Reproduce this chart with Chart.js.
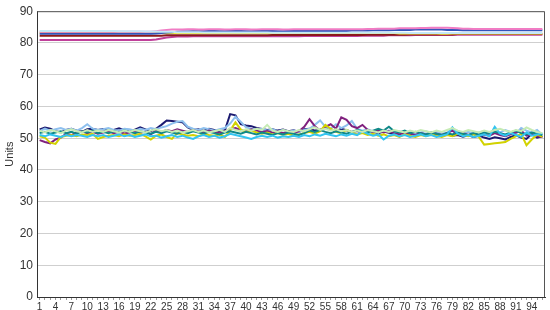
<!DOCTYPE html>
<html>
<head>
<meta charset="utf-8">
<script src="https://cdn.jsdelivr.net/npm/chart.js@4.4.1/dist/chart.umd.min.js"></script>
<style>
  html, body { margin: 0; padding: 0; background: #fff; }
  #wrap { width: 550px; height: 310px; }
</style>
</head>
<body>
<div id="wrap"><canvas id="unitsChart"></canvas></div>
<script>
// categories 1..96
var days = [];
for (var d = 1; d <= 96; d++) days.push(String(d));

var yTicks = [0, 10, 20, 30, 40, 50, 60, 70, 80, 90];

// upper group (flat lines around 83)
var pinkTop = [
  83.5, 83.5, 83.5, 83.5, 83.5, 83.5, 83.5, 83.5, 83.5, 83.5, 83.5, 83.5,
  83.5, 83.5, 83.5, 83.5, 83.5, 83.5, 83.5, 83.5, 83.5, 83.5, 83.7, 83.9,
  84.1, 84.2, 84.2, 84.2, 84.3, 84.3, 84.2, 84.2, 84.3, 84.3, 84.3, 84.2,
  84.2, 84.3, 84.3, 84.3, 84.2, 84.2, 84.3, 84.3, 84.3, 84.3, 84.2, 84.2,
  84.3, 84.3, 84.3, 84.3, 84.3, 84.3, 84.3, 84.3, 84.3, 84.3, 84.3, 84.3,
  84.3, 84.3, 84.4, 84.4, 84.5, 84.5, 84.5, 84.5, 84.6, 84.6, 84.6, 84.6,
  84.7, 84.7, 84.8, 84.8, 84.8, 84.8, 84.7, 84.6, 84.5, 84.5, 84.4, 84.4,
  84.4, 84.4, 84.4, 84.4, 84.4, 84.4, 84.4, 84.4, 84.4, 84.4, 84.4, 84.4
];
var blueTop = [
  82.9, 82.9, 82.9, 82.9, 82.9, 82.9, 82.9, 82.9, 82.9, 82.9, 82.9, 82.9,
  82.9, 82.9, 82.9, 82.9, 82.9, 82.9, 82.9, 82.9, 82.9, 82.9, 83.0, 83.1,
  83.3, 83.4, 83.5, 83.6, 83.6, 83.7, 83.7, 83.7, 83.8, 83.8, 83.7, 83.7,
  83.8, 83.8, 83.8, 83.7, 83.7, 83.8, 83.8, 83.8, 83.8, 83.7, 83.7, 83.8,
  83.8, 83.8, 83.8, 83.8, 83.8, 83.8, 83.8, 83.8, 83.8, 83.8, 83.8, 83.9,
  83.9, 83.9, 83.9, 84.0, 84.0, 84.0, 84.0, 84.1, 84.1, 84.1, 84.1, 84.2,
  84.2, 84.2, 84.2, 84.2, 84.2, 84.1, 84.1, 84.1, 84.0, 84.0, 84.0, 84.0,
  84.0, 84.0, 84.0, 84.0, 84.0, 84.0, 84.0, 84.0, 84.0, 84.0, 84.0, 84.0
];
var cyanTop = [
  83.8, 83.8, 83.8, 83.8, 83.8, 83.8, 83.8, 83.8, 83.8, 83.8, 83.8, 83.8,
  83.8, 83.8, 83.8, 83.7, 83.7, 83.7, 83.7, 83.7, 83.6, 83.6, 83.6, 83.5,
  83.5, 83.5, 83.4, 83.4, 83.4, 83.4, 83.4, 83.3, 83.3, 83.3, 83.3, 83.3,
  83.3, 83.3, 83.3, 83.3, 83.3, 83.3, 83.3, 83.3, 83.2, 83.2, 83.2, 83.2,
  83.2, 83.2, 83.2, 83.2, 83.2, 83.2, 83.2, 83.2, 83.2, 83.2, 83.2, 83.2,
  83.2, 83.2, 83.2, 83.2, 83.2, 83.2, 83.2, 83.2, 83.2, 83.2, 83.1, 83.1,
  83.1, 83.1, 83.1, 83.1, 83.1, 83.1, 83.1, 83.1, 83.1, 83.1, 83.1, 83.1,
  83.1, 83.1, 83.1, 83.1, 83.1, 83.1, 83.1, 83.1, 83.1, 83.1, 83.1, 83.1
];
var yellowTop = [
  83.1, 83.1, 83.1, 83.1, 83.1, 83.1, 83.1, 83.1, 83.1, 83.1, 83.1, 83.1,
  83.1, 83.1, 83.1, 83.1, 83.1, 83.1, 83.1, 83.1, 83.1, 83.1, 83.1, 83.1,
  83.1, 83.1, 83.1, 83.1, 83.1, 83.1, 83.1, 83.1, 83.1, 83.1, 83.1, 83.1,
  83.1, 83.1, 83.1, 83.1, 83.1, 83.1, 83.1, 83.1, 83.1, 83.1, 83.1, 83.1,
  83.1, 83.1, 83.1, 83.1, 83.1, 83.1, 83.1, 83.1, 83.1, 83.1, 83.1, 83.1,
  83.1, 83.1, 83.1, 83.1, 83.1, 83.1, 83.1, 83.1, 83.0, 83.0, 83.0, 83.0,
  83.0, 83.0, 83.0, 83.0, 82.9, 82.9, 83.0, 83.0, 83.0, 83.0, 83.0, 83.0,
  83.0, 83.0, 83.0, 83.0, 83.0, 83.0, 83.0, 83.0, 83.0, 83.0, 83.0, 83.0
];
var redTop = [
  82.3, 82.3, 82.3, 82.3, 82.3, 82.3, 82.3, 82.3, 82.3, 82.3, 82.3, 82.3,
  82.3, 82.3, 82.3, 82.3, 82.3, 82.3, 82.3, 82.3, 82.3, 82.3, 82.3, 82.3,
  82.4, 82.4, 82.4, 82.4, 82.4, 82.4, 82.4, 82.4, 82.4, 82.4, 82.4, 82.4,
  82.4, 82.4, 82.4, 82.4, 82.4, 82.4, 82.4, 82.4, 82.5, 82.5, 82.5, 82.5,
  82.5, 82.5, 82.5, 82.5, 82.5, 82.5, 82.5, 82.5, 82.5, 82.5, 82.5, 82.5,
  82.5, 82.5, 82.6, 82.6, 82.6, 82.6, 82.6, 82.6, 82.6, 82.6, 82.7, 82.7,
  82.7, 82.7, 82.7, 82.7, 82.7, 82.7, 82.7, 82.8, 82.8, 82.8, 82.8, 82.8,
  82.8, 82.8, 82.8, 82.8, 82.8, 82.8, 82.8, 82.8, 82.8, 82.8, 82.8, 82.8
];
var magentaTop = [
  80.9, 80.9, 80.9, 80.9, 80.9, 80.9, 80.9, 80.9, 80.9, 80.9, 80.9, 80.9,
  80.9, 80.9, 80.9, 80.9, 80.9, 80.9, 80.9, 80.9, 80.9, 80.9, 81.1, 81.4,
  81.7, 81.9, 82.0, 82.0, 82.0, 82.1, 82.1, 82.1, 82.1, 82.1, 82.1, 82.1,
  82.1, 82.1, 82.1, 82.1, 82.1, 82.1, 82.1, 82.1, 82.1, 82.1, 82.1, 82.1,
  82.1, 82.1, 82.2, 82.2, 82.2, 82.2, 82.2, 82.2, 82.2, 82.2, 82.2, 82.2,
  82.2, 82.3, 82.3, 82.3, 82.3, 82.3, 82.4, 82.4, 82.4, 82.4, 82.4, 82.5,
  82.5, 82.5, 82.5, 82.5, 82.5, 82.5, 82.5, 82.6, 82.6, 82.6, 82.6, 82.6,
  82.6, 82.6, 82.6, 82.6, 82.6, 82.6, 82.6, 82.6, 82.6, 82.6, 82.6, 82.6
];

// lower group (noisy lines around 51)
var navyLow = [
  52.8, 53.4, 53.0, 52.2, 51.8, 52.6, 53.0, 52.4, 52.0, 52.8, 53.0, 52.6,
  52.9, 52.3, 52.6, 53.1, 52.5, 52.0, 52.7, 53.4, 52.8, 52.2, 53.0, 54.2,
  55.6, 55.4, 55.2, 55.0, 53.4, 52.6, 52.8, 52.4, 53.0, 52.6, 52.2, 52.5,
  57.6, 57.2, 54.4, 54.0, 53.8, 53.2, 52.9, 52.6, 52.8, 52.4, 52.7, 52.2,
  52.5, 52.0, 52.8, 53.0, 52.4, 52.6, 53.4, 52.8, 52.2, 53.0, 52.5, 52.0,
  52.3, 51.8, 52.4, 52.0, 51.6, 52.1, 51.7, 51.4, 51.9, 51.2, 51.6, 51.0,
  51.4, 50.8, 51.3, 51.0, 50.6, 51.2, 50.8, 51.0, 50.5, 50.9, 50.4, 50.8,
  50.2, 49.8, 50.3, 50.0, 49.6, 50.4, 50.9, 50.2, 49.8, 51.4, 50.2, 50.6
];
var purpleLow = [
  49.4, 48.8, 48.4, 49.6, 50.2, 51.4, 51.0, 51.8, 52.2, 51.6, 52.0, 51.4,
  51.8, 52.2, 51.6, 52.0, 51.5, 51.8, 52.3, 51.7, 52.0, 51.2, 52.4, 52.0,
  52.6, 52.2, 52.8, 52.4, 52.0, 52.5, 52.1, 51.8, 52.4, 52.0, 51.6, 52.2,
  52.8, 53.2, 52.6, 52.2, 52.8, 52.4, 52.0, 52.3, 51.8, 52.2, 51.6, 52.0,
  51.6, 52.2, 53.6, 56.0, 53.8, 52.4, 53.6, 54.4, 53.0, 56.6, 55.8, 53.8,
  53.2, 54.2, 52.6, 52.0, 52.4, 51.8, 52.2, 51.6, 51.2, 51.8, 51.4, 51.0,
  51.6, 51.2, 51.8, 51.4, 51.0, 51.6, 52.4, 51.2, 51.6, 51.0, 51.4, 50.8,
  51.2, 50.8, 51.6, 51.0, 50.6, 51.2, 51.8, 52.4, 50.8, 51.2, 50.6, 50.4
];
var yellowLow = [
  50.6, 50.2, 48.6, 48.2, 50.4, 50.8, 51.0, 50.6, 51.2, 51.0, 51.4, 49.8,
  50.4, 50.8, 51.0, 50.6, 51.2, 50.8, 51.0, 51.4, 50.6, 49.6, 50.8, 51.2,
  50.4, 49.8, 51.6, 51.2, 50.8, 51.0, 50.6, 51.4, 51.0, 50.8, 51.2, 50.4,
  52.4, 55.0, 52.8, 52.0, 52.4, 51.8, 51.4, 51.8, 51.2, 51.6, 51.0, 51.4,
  50.8, 51.2, 51.6, 52.0, 51.4, 52.2, 54.2, 53.0, 52.0, 51.6, 52.6, 51.8,
  51.2, 51.6, 51.0, 51.4, 50.8, 51.2, 50.6, 51.0, 50.4, 51.2, 50.8, 50.4,
  51.0, 50.6, 51.2, 50.8, 50.4, 51.0, 50.6, 51.4, 51.0, 50.6, 51.2, 50.4,
  48.0, 48.2, 48.4, 48.6, 48.8, 49.8, 50.6, 51.4, 47.8, 49.6, 51.2, 50.4
];
var skyLow = [
  52.2, 53.0, 52.4, 52.8, 53.2, 52.6, 53.0, 52.4, 53.2, 54.4, 53.0, 52.6,
  52.8, 53.2, 52.6, 52.4, 53.0, 52.8, 52.4, 53.0, 52.6, 53.2, 52.8, 53.4,
  53.8, 54.6, 55.2, 55.4, 53.6, 53.0, 52.6, 53.2, 52.8, 52.4, 52.8, 53.2,
  54.6, 56.8, 55.2, 53.4, 53.0, 52.6, 53.0, 52.4, 52.8, 52.2, 52.6, 52.0,
  52.4, 52.0, 52.6, 53.0, 54.2, 55.6, 53.6, 53.0, 54.4, 53.2, 54.0, 55.4,
  53.0, 52.4, 52.8, 52.2, 52.6, 52.0, 52.4, 51.8, 52.2, 51.6, 52.0, 51.4,
  51.8, 52.2, 51.6, 52.0, 51.4, 51.8, 53.0, 52.2, 51.6, 52.0, 51.4, 51.8,
  52.2, 51.6, 52.4, 51.8, 52.6, 52.0, 51.4, 53.2, 52.4, 51.8, 52.6, 51.0
];
var cyanLow = [
  51.0, 50.6, 51.2, 50.8, 50.4, 51.0, 50.6, 51.0, 50.8, 50.4, 51.0, 50.6,
  51.0, 50.4, 50.8, 51.2, 50.6, 51.0, 50.4, 50.8, 51.2, 50.6, 50.8, 50.2,
  50.6, 51.0, 50.4, 50.8, 50.2, 49.8, 50.6, 51.0, 50.4, 50.8, 50.2, 50.6,
  51.4, 51.0, 50.6, 50.2, 49.8, 50.4, 50.8, 50.4, 50.8, 50.2, 50.6, 50.4,
  50.8, 50.4, 51.0, 50.6, 51.2, 50.8, 51.4, 51.0, 50.6, 51.2, 50.8, 51.4,
  51.0, 52.2, 51.4, 50.8, 51.2, 49.6, 50.8, 51.2, 50.6, 51.0, 50.4, 50.8,
  51.2, 50.6, 51.0, 50.4, 50.8, 51.2, 53.4, 51.4, 50.6, 51.0, 50.4, 50.8,
  51.2, 50.6, 53.6, 51.4, 50.8, 51.6, 51.0, 50.4, 51.8, 50.8, 51.2, 51.6
];
var tealLow = [
  51.6, 52.0, 51.4, 51.8, 52.2, 51.6, 52.0, 51.4, 52.2, 51.8, 52.4, 51.6,
  52.0, 51.6, 52.2, 51.8, 52.4, 52.0, 51.6, 52.2, 51.8, 51.4, 52.0, 51.6,
  52.2, 51.8, 51.4, 52.0, 51.6, 52.2, 51.8, 51.4, 52.0, 51.6, 51.2, 51.8,
  52.2, 51.8, 51.4, 52.0, 51.6, 51.2, 51.8, 51.4, 51.0, 51.6, 51.2, 51.8,
  51.4, 51.0, 51.6, 52.4, 52.0, 52.6, 52.0, 51.6, 52.2, 51.8, 51.4, 52.0,
  52.6, 52.2, 51.8, 52.4, 53.0, 52.4, 53.6, 52.2, 51.8, 52.4, 51.6, 52.0,
  51.6, 51.2, 51.8, 51.4, 51.0, 51.6, 51.2, 51.8, 51.4, 51.0, 51.6, 51.2,
  51.8, 51.4, 52.0, 51.6, 51.2, 51.8, 52.4, 51.6, 51.2, 51.8, 51.4, 51.0
];
var greenLow = [
  52.4, 51.8, 52.6, 52.2, 51.6, 52.4, 52.8, 52.2, 51.8, 52.6, 52.0, 52.4,
  52.0, 52.6, 52.2, 51.8, 52.4, 52.0, 52.6, 52.2, 51.8, 52.4, 52.8, 52.2,
  52.6, 52.0, 52.4, 51.8, 52.2, 52.6, 52.0, 52.4, 51.8, 52.2, 52.6, 52.0,
  53.2, 52.6, 52.2, 52.8, 52.4, 53.0, 52.6, 54.2, 52.4, 52.0, 52.6, 52.2,
  52.0, 52.6, 52.2, 52.8, 53.4, 52.6, 53.0, 52.4, 52.8, 52.2, 52.6, 52.0,
  52.4, 52.0, 52.6, 52.2, 51.8, 52.4, 52.0, 52.6, 52.2, 51.8, 52.4, 52.0,
  52.6, 52.2, 51.8, 52.4, 52.0, 52.6, 53.2, 52.4, 52.0, 52.6, 52.2, 51.8,
  52.4, 52.0, 52.6, 53.0, 52.4, 52.0, 52.6, 52.2, 53.4, 52.6, 52.0, 51.6
];

function line(data, color) {
  return {
    data: data,
    borderColor: color,
    borderWidth: 2,
    pointRadius: 0,
    tension: 0,
    fill: false
  };
}

var frame = {
  id: 'frame',
  afterDraw: function (chart) {
    var a = chart.chartArea, ctx = chart.ctx;
    ctx.save();
    ctx.strokeStyle = '#555';
    ctx.lineWidth = 1;
    ctx.beginPath();
    ctx.moveTo(a.left, a.top + 0.5);
    ctx.lineTo(a.right - 0.5, a.top + 0.5);
    ctx.lineTo(a.right - 0.5, a.bottom);
    ctx.stroke();
    ctx.restore();
  }
};

var chart = new Chart('unitsChart', {
  type: 'line',
  data: {
    labels: days,
    datasets: [
      line(cyanTop, '#c4e8f6'),
      line(pinkTop, '#f07cc4'),
      line(blueTop, '#3355bb'),
      line(yellowTop, '#ecec40'),
      line(redTop, '#8b1a1a'),
      line(magentaTop, '#c0409a'),
      line(greenLow, '#c6ebb4'),
      line(cyanLow, '#33c4f0'),
      line(tealLow, '#108888'),
      line(yellowLow, '#d2d200'),
      line(purpleLow, '#80207e'),
      line(skyLow, '#8ec0ee'),
      line(navyLow, '#1c1a70')
    ]
  },
  options: {
    responsive: true,
    maintainAspectRatio: false,
    animation: false,
    layout: { padding: { top: 9, right: 5, left: 0, bottom: 0 } },
    plugins: { legend: { display: false }, tooltip: { enabled: false } },
    scales: {
      x: {
        offset: true,
        grid: { drawOnChartArea: false, tickLength: 3, color: '#999' },
        border: { color: '#333' },
        ticks: {
          autoSkip: false,
          maxRotation: 0,
          padding: 1,
          color: '#333',
          font: { family: 'Liberation Sans Narrow, Liberation Sans, Arial', size: 10 },
          callback: function (v, i) { return i % 3 === 0 ? days[i] : ''; }
        },
        afterFit: function (s) { s.height = 13; }
      },
      y: {
        min: yTicks[0],
        max: yTicks[yTicks.length - 1],
        afterBuildTicks: function (s) { s.ticks = yTicks.map(function (v) { return { value: v }; }); },
        grid: { color: '#cfcfcf', drawTicks: false },
        border: { color: '#333' },
        ticks: {
          padding: 4,
          color: '#333',
          font: { family: 'Liberation Sans, Arial', size: 12 }
        },
        title: {
          display: true,
          text: 'Units',
          color: '#333',
          padding: { top: 3, bottom: 0 },
          font: { family: 'Liberation Sans, Arial', size: 11 }
        },
        afterFit: function (s) { s.width = 37; }
      }
    }
  },
  plugins: [frame]
});
</script>
</body>
</html>
